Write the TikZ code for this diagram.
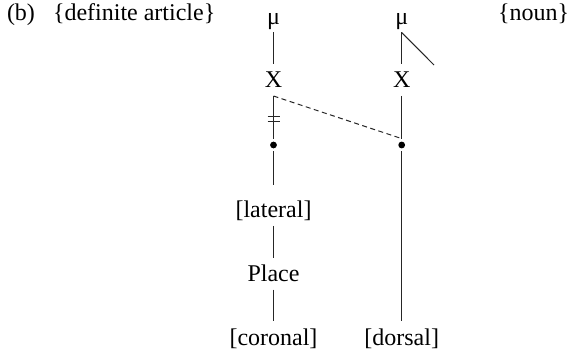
\documentclass[tikz,border=0pt]{standalone}
\usepackage{fontspec}
\setmainfont{Liberation Serif}
\usepackage{tikz}
\tikzset{
  lbl/.style={inner sep=0pt,outer sep=0pt,anchor=base,text=black,font=\fontsize{24}{28.8}\selectfont},
  tier/.style={lbl,text height=16pt,text depth=0pt,outer ysep=8pt},
  rootdot/.style={circle,fill=black,draw=none,inner sep=0pt,minimum size=6.8pt,outer sep=3pt},
  assoc/.style={draw=black!85,line width=1pt},
  delink/.style={assoc,dash pattern=on 5pt off 3.5pt},
}
\begin{document}
\begin{tikzpicture}[x=1pt,y=-1pt]
\path[use as bounding box] (0,0) rectangle (571,350);
\path[fill=white,draw=none] (0,0) rectangle (571,350);
% glosses
\node[lbl,anchor=base west] (tagb) at (7,21) {(b)};
\node[lbl,anchor=base west] (glossart) at (53,21) {\{definite article\}};
\node[lbl,anchor=base west] (glossnoun) at (498,21) {\{noun\}};
% article column
\node[tier] (muart) at (273.5,24.5) {μ};
\node[tier] (xart) at (273.5,88) {X};
\node[rootdot] (dotart) at (273.5,145) {};
\node[tier] (lat) at (273.5,218) {[lateral]};
\node[tier] (place) at (273.5,281.7) {Place};
\node[tier] (cor) at (273.5,345) {[coronal]};
% noun column
\node[tier] (munoun) at (401.7,24.5) {μ};
\node[tier] (xnoun) at (401.7,88) {X};
\coordinate (tailnoun) at (434,65);
\node[rootdot] (dotnoun) at (401.7,145) {};
\node[tier] (dor) at (401.7,345) {[dorsal]};
% association lines
\draw[assoc] (muart) -- (xart);
\draw[assoc] (xart) -- (dotart);
\draw[assoc] (267.5,117) -- (279.5,117) (267.5,122) -- (279.5,122);
\draw[assoc,shorten >=9pt] (dotart) -- (lat);
\draw[assoc] (lat) -- (place);
\draw[assoc] (place) -- (cor);
\draw[assoc] (munoun) -- (xnoun);
\draw[assoc] (munoun.south) -- (tailnoun);
\draw[assoc] (xnoun) -- (dotnoun);
\draw[assoc] (dotnoun) -- (dor);
\draw[delink] (xart.south) -- (dotnoun.north);
\end{tikzpicture}
\end{document}
